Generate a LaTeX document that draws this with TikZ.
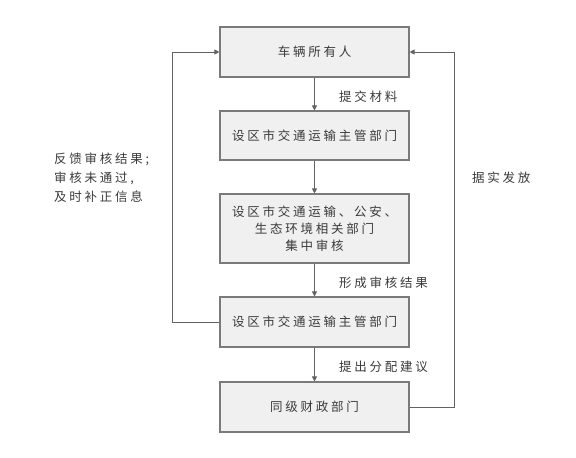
\documentclass[tikz,border=0pt]{standalone}
\usepackage{fontspec}
\setmainfont{Noto Sans CJK SC}[LetterSpace=22]
\usetikzlibrary{arrows.meta}
\definecolor{boxfill}{HTML}{F0F0F0}
\definecolor{boxline}{HTML}{7A7A7A}
\definecolor{txt}{HTML}{3A3A3A}
\tikzset{
  stepbox/.style={draw=boxline, line width=1.1pt, fill=boxfill, minimum width=189pt, text=txt, font=\fontsize{12.5}{17}\selectfont, align=center, inner sep=0pt},
  conn/.style={draw=boxline!80!black, line width=1pt, -{Triangle[length=5pt,width=5pt]}},
  lab/.style={text=txt, font=\fontsize{12.5}{19}\selectfont, inner sep=0pt, align=left}
}
\begin{document}
\begin{tikzpicture}[x=1pt,y=-1pt]
\useasboundingbox (0,0) rectangle (576,458);
\node[stepbox, minimum height=50pt] (a) at (314.5,52) {车辆所有人};
\node[stepbox, minimum height=49pt] (b) at (314.5,135.5) {设区市交通运输主管部门};
\node[stepbox, minimum height=69pt] (c) at (314.5,228.5) {设区市交通运输、公安、\\生态环境相关部门\\集中审核};
\node[stepbox, minimum height=50pt] (d) at (314.5,322) {设区市交通运输主管部门};
\node[stepbox, minimum height=50pt] (e) at (314.5,407) {同级财政部门};
\draw[conn] (a) -- (b);
\draw[conn] (b) -- (c);
\draw[conn] (c) -- (d);
\draw[conn] (d) -- (e);
\coordinate (l1) at (172,322);
\coordinate (l2) at (172,52);
\coordinate (r1) at (454.5,407);
\coordinate (r2) at (454.5,52);
\draw[conn] (d.west) -- (l1) -- (l2) -- (a.west);
\draw[conn] (e.east) -- (r1) -- (r2) -- (a.east);
\node[lab, anchor=west] (t1) at (339,97) {提交材料};
\node[lab, anchor=west] (t2) at (339,283) {形成审核结果};
\node[lab, anchor=west] (t3) at (339,367) {提出分配建议};
\node[lab, anchor=west] (t4) at (472,178) {据实发放};
\node[lab, anchor=west] (t5) at (54,178) {反馈审核结果;\\审核未通过,\\及时补正信息};
\end{tikzpicture}
\end{document}
